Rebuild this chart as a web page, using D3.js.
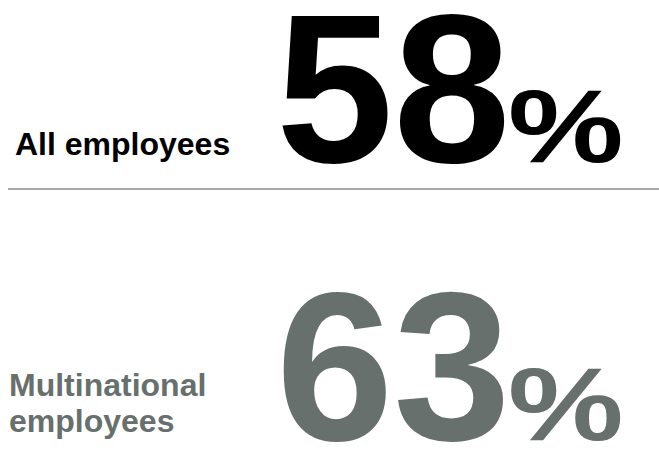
<!DOCTYPE html>
<html>
<head>
<meta charset="utf-8">
<script src="https://cdn.jsdelivr.net/npm/d3@7"></script>
<style>
  html, body { margin: 0; padding: 0; background: #fff; }
  svg { display: block; }
  text { font-family: "Liberation Sans", Arial, Helvetica, sans-serif; font-weight: bold; }
</style>
</head>
<body>
<script>
// ---- data ----
const categories = ["All employees", "Multinational employees"];
const labelLines = [["All employees"], ["Multinational", "employees"]];
const values = [58, 63];
const colors = ["#000000", "#67706c"];

const W = 659, H = 468;
const svg = d3.select("body").append("svg").attr("width", W).attr("height", H);

// row baselines via point scale
const y = d3.scalePoint().domain(categories).range([162, 440]);

const rows = svg.selectAll("g.row").data(categories).join("g")
  .attr("class", "row")
  .attr("transform", d => `translate(0,${y(d)})`);

// big number
rows.append("text")
  .attr("x", 276)
  .attr("y", 0)
  .attr("font-size", 211)
  .attr("fill", (d, i) => colors[i])
  .text((d, i) => values[i]);

// percent sign
rows.append("text")
  .attr("transform", "translate(508,0) scale(1.25,1)")
  .attr("font-size", 104)
  .attr("fill", (d, i) => colors[i])
  .text("%");

// labels
rows.each(function (d, i) {
  const lines = labelLines[i];
  const g = d3.select(this);
  const lh = 36;
  const lastBase = i === 0 ? -7 : -8;
  g.append("text")
    .attr("font-size", 32)
    .attr("fill", colors[i])
    .selectAll("tspan").data(lines).join("tspan")
    .attr("x", i === 0 ? 15 : 9)
    .attr("y", (l, j) => lastBase - (lines.length - 1 - j) * lh)
    .text(l => l);
});

// separator line
svg.append("line")
  .attr("x1", 8).attr("x2", W)
  .attr("y1", 189).attr("y2", 189)
  .attr("stroke", "#a8a8a8")
  .attr("stroke-width", 2);
</script>
</body>
</html>
